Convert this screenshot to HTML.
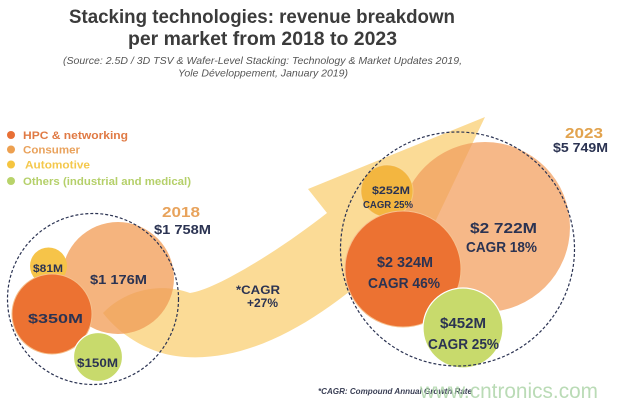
<!DOCTYPE html>
<html><head><meta charset="utf-8"><style>
html,body{margin:0;padding:0;background:#fff;}
svg{display:block;}
text{font-family:"Liberation Sans",Arial,sans-serif;}
</style></head><body>
<svg width="618" height="405" viewBox="0 0 618 405" xmlns="http://www.w3.org/2000/svg">
<defs>
<clipPath id="cons"><circle cx="118" cy="278" r="56"/><circle cx="485" cy="227" r="85"/><circle cx="387" cy="191" r="26"/></clipPath>
</defs>
<rect width="618" height="405" fill="#fff"/>
<!-- title -->
<text x="69" y="23" font-size="19" font-weight="bold" fill="#3b3b3b" textLength="386" lengthAdjust="spacingAndGlyphs">Stacking technologies: revenue breakdown</text>
<text x="128" y="45" font-size="19" font-weight="bold" fill="#3b3b3b" textLength="269" lengthAdjust="spacingAndGlyphs">per market from 2018 to 2023</text>
<text x="63" y="64" font-size="10.5" font-style="italic" fill="#555" textLength="399" lengthAdjust="spacingAndGlyphs">(Source: 2.5D / 3D TSV &amp; Wafer-Level Stacking: Technology &amp; Market Updates 2019,</text>
<text x="178" y="76.5" font-size="10.5" font-style="italic" fill="#555" textLength="170" lengthAdjust="spacingAndGlyphs">Yole Développement, January 2019)</text>

<!-- legend -->
<circle cx="11" cy="135" r="4" fill="#e86f35"/>
<circle cx="11" cy="149.5" r="4" fill="#eda050"/>
<circle cx="11" cy="164.5" r="4" fill="#f5c540"/>
<circle cx="11" cy="181" r="4" fill="#b8d36a"/>
<text x="23" y="139" font-size="11" font-weight="bold" fill="#e07a44" textLength="105" lengthAdjust="spacingAndGlyphs">HPC &amp; networking</text>
<text x="23" y="153.5" font-size="11" font-weight="bold" fill="#e9a25c" textLength="57" lengthAdjust="spacingAndGlyphs">Consumer</text>
<text x="25" y="168.5" font-size="11" font-weight="bold" fill="#f4c84c" textLength="65" lengthAdjust="spacingAndGlyphs">Automotive</text>
<text x="23" y="185" font-size="11" font-weight="bold" fill="#b5d06a" textLength="168" lengthAdjust="spacingAndGlyphs">Others (industrial and medical)</text>

<!-- arrow base -->
<path id="arr" d="M103,313 C125,290 160,282 190,293 C215,290 280,250 327,213 L308,189 L485,117 L404,287 L379,267 C330,310 260,362 185,357 C150,355 120,335 103,313 Z" fill="#fbdb96"/>

<!-- 2018 circles -->
<circle cx="118" cy="278" r="56" fill="#f5b47e"/>
<circle cx="48.5" cy="266" r="18.5" fill="#f6c449"/>
<!-- 2023 circles -->
<circle cx="485" cy="227" r="85" fill="#f6b888"/>
<circle cx="387" cy="191" r="26" fill="#f6c544" stroke="#fbe0a0" stroke-width="1"/>

<!-- arrow tint over consumer/automotive -->
<path d="M103,313 C125,290 160,282 190,293 C215,290 280,250 327,213 L308,189 L485,117 L404,287 L379,267 C330,310 260,362 185,357 C150,355 120,335 103,313 Z" fill="#ee9a38" opacity="0.35" clip-path="url(#cons)"/>

<!-- HPC & others on top -->
<circle cx="52" cy="314" r="40" fill="#ec7232" stroke="#f6c08c" stroke-width="1"/>
<circle cx="98" cy="357" r="24.5" fill="#c8da6c" stroke="#fff" stroke-width="1.2"/>
<circle cx="403" cy="269" r="58" fill="#ec7232" stroke="#f7c18f" stroke-width="1"/>
<circle cx="463" cy="328" r="40" fill="#c8da6c" stroke="#fff" stroke-width="1.2"/>

<!-- dashed circles -->
<circle cx="93" cy="299" r="85.5" fill="none" stroke="#2b3352" stroke-width="1.2" stroke-dasharray="3,2"/>
<circle cx="457.5" cy="249" r="117" fill="none" stroke="#2b3352" stroke-width="1.2" stroke-dasharray="3,2"/>

<!-- year labels -->
<text x="162" y="217" font-size="15" font-weight="bold" fill="#e8a35c" textLength="38" lengthAdjust="spacingAndGlyphs">2018</text>
<text x="154" y="234" font-size="13" font-weight="bold" fill="#2b3352" textLength="57" lengthAdjust="spacingAndGlyphs">$1 758M</text>
<text x="565" y="138" font-size="15" font-weight="bold" fill="#e2a34e" textLength="38" lengthAdjust="spacingAndGlyphs">2023</text>
<text x="553" y="152" font-size="13" font-weight="bold" fill="#2b3352" textLength="55" lengthAdjust="spacingAndGlyphs">$5 749M</text>

<!-- circle labels 2018 -->
<g font-weight="bold" fill="#2b3352">
<text x="33" y="272" font-size="11" textLength="30" lengthAdjust="spacingAndGlyphs">$81M</text>
<text x="90" y="284" font-size="13" textLength="57" lengthAdjust="spacingAndGlyphs">$1 176M</text>
<text x="28" y="323" font-size="13" textLength="55" lengthAdjust="spacingAndGlyphs">$350M</text>
<text x="77" y="367" font-size="12" textLength="41" lengthAdjust="spacingAndGlyphs">$150M</text>
<!-- 2023 -->
<text x="372" y="194" font-size="11" textLength="38" lengthAdjust="spacingAndGlyphs">$252M</text>
<text x="363" y="208" font-size="10" textLength="50" lengthAdjust="spacingAndGlyphs">CAGR 25%</text>
<text x="470" y="233" font-size="15" textLength="67" lengthAdjust="spacingAndGlyphs">$2 722M</text>
<text x="466" y="252" font-size="15" textLength="71" lengthAdjust="spacingAndGlyphs">CAGR 18%</text>
<text x="377" y="267" font-size="15" textLength="56" lengthAdjust="spacingAndGlyphs">$2 324M</text>
<text x="368" y="288" font-size="15" textLength="72" lengthAdjust="spacingAndGlyphs">CAGR 46%</text>
<text x="440" y="328" font-size="15" textLength="46" lengthAdjust="spacingAndGlyphs">$452M</text>
<text x="428" y="349" font-size="15" textLength="71" lengthAdjust="spacingAndGlyphs">CAGR 25%</text>
<text x="236" y="294" font-size="12" textLength="44" lengthAdjust="spacingAndGlyphs">*CAGR</text>
<text x="247" y="307" font-size="12" textLength="31" lengthAdjust="spacingAndGlyphs">+27%</text>
</g>

<!-- footnote & watermark -->
<text x="318" y="394" font-size="8" font-weight="bold" font-style="italic" fill="#3a3f55" textLength="154" lengthAdjust="spacingAndGlyphs">*CAGR: Compound Annual Growth Rate</text>
<text x="420" y="398" font-size="21" fill="#a9d3a4" opacity="0.8" textLength="178" lengthAdjust="spacingAndGlyphs">www.cntronics.com</text>
</svg>
</body></html>
